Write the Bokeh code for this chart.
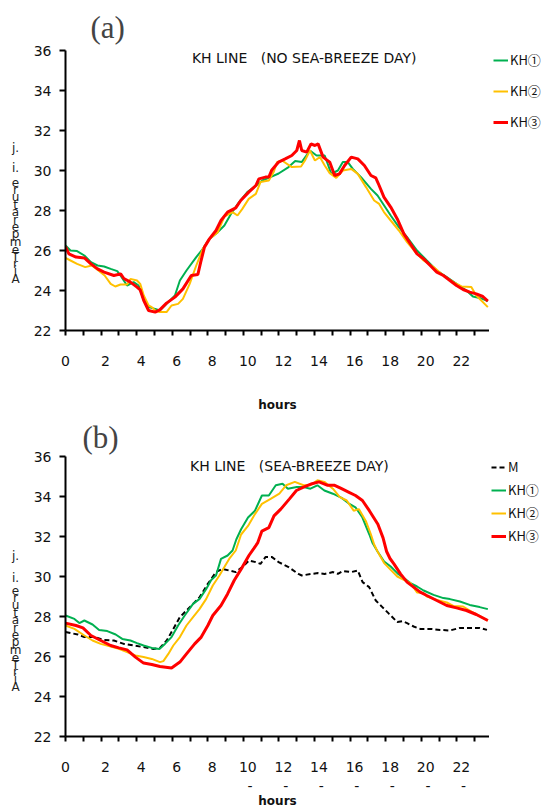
from bokeh.plotting import figure
from bokeh.models import Range1d, FixedTicker, Label, Legend, LegendItem
from bokeh.layouts import column, row
from bokeh.embed import file_html
from bokeh.resources import INLINE

NB = "\u00a0"

# ---------------- data ----------------
X_TICKS = list(range(0, 24))
X_TICK_LABELS_A = {h: ((NB * 2 if h else "") + str(h) if h % 2 == 0 else "") for h in X_TICKS}
# panel (b) shows a small stray dash under the labels from 10 h on
X_TICK_LABELS_B = {h: ((NB * 2 if h else "") + str(h) + ("\n" + NB * 3 + "-" if h >= 10 else "")
                       if h % 2 == 0 else "") for h in X_TICKS}
Y_TICKS = [22, 24, 26, 28, 30, 32, 34, 36]
X_END = 143 / 6  # last 10-minute sample

# panel (a): no sea-breeze day
a_kh1_h = [0, 0.28, 0.65, 1.06, 1.43, 1.8, 2.17, 2.54, 2.91, 3.09, 3.46, 3.83, 4.11, 4.4, 4.67, 5.04, 5.3, 5.68,
           6.15, 6.43, 6.8, 7.35, 7.72, 8.09, 8.56, 8.93, 9.3, 9.76, 10.22, 10.6, 11.06, 11.52, 11.98, 12.54,
           12.91, 13.28, 13.74, 14.11, 14.57, 14.94, 15.31, 15.59, 15.87, 16.15, 16.61, 17.17, 17.54, 17.91,
           18.28, 18.74, 19.2, 19.76, 20.31, 20.87, 21.43, 21.98, 22.54, 22.9, 23.28, 23.74]
a_kh1_t = [26.25, 26.0, 25.97, 25.75, 25.42, 25.25, 25.2, 25.08, 24.97, 24.75, 24.25, 24.42, 24.25, 23.5, 23.17,
           23.08, 23.0, 23.33, 23.75, 24.5, 25.0, 25.67, 26.08, 26.58, 26.92, 27.25, 27.83, 28.42, 28.92, 29.17,
           29.5, 29.67, 29.85, 30.17, 30.47, 30.42, 31.0, 30.75, 30.75, 29.83, 30.0, 30.42, 30.42, 30.08, 29.67,
           29.08, 28.75, 28.25, 27.75, 27.17, 26.67, 26.0, 25.5, 25.0, 24.67, 24.33, 24.0, 23.7, 23.63, 23.47]

a_kh2_h = [0, 0.28, 0.65, 1.11, 1.48, 1.85, 2.2, 2.54, 2.8, 3.09, 3.46, 3.65, 4.02, 4.2, 4.4, 4.67, 4.85, 5.04,
           5.3, 5.68, 5.96, 6.33, 6.6, 6.98, 7.35, 7.72, 8.09, 8.56, 8.93, 9.39, 9.67, 9.94, 10.3, 10.7, 10.96,
           11.43, 11.7, 11.89, 12.17, 12.72, 13.24, 13.46, 13.74, 14.02, 14.3, 14.57, 14.85, 15.22, 15.59, 16.06,
           16.43, 16.89, 17.35, 17.63, 17.9, 18.28, 18.74, 19.2, 19.67, 20.13, 20.69, 21.24, 21.8, 22.26, 22.81,
           23.09, 23.74]
a_kh2_t = [25.63, 25.5, 25.33, 25.17, 25.25, 25.0, 24.75, 24.33, 24.2, 24.3, 24.3, 24.58, 24.5, 24.33, 23.75,
           23.25, 23.17, 23.0, 22.92, 22.92, 23.25, 23.33, 23.58, 24.33, 25.25, 26.08, 26.58, 26.92, 27.7, 27.92,
           27.75, 28.08, 28.58, 28.83, 29.42, 29.5, 29.92, 30.42, 30.5, 30.17, 30.2, 30.5, 31.0, 30.5, 30.67,
           30.25, 29.87, 29.63, 30.0, 30.08, 29.83, 29.17, 28.5, 28.33, 27.92, 27.5, 27.0, 26.42, 25.92, 25.5,
           25.17, 24.75, 24.42, 24.2, 24.17, 23.75, 23.17]

a_kh3_h = [0, 0.19, 0.59, 1.06, 1.43, 1.8, 2.17, 2.72, 3.1, 3.28, 3.65, 4.02, 4.2, 4.4, 4.67, 5.04, 5.3, 5.68,
           6.15, 6.6, 7.07, 7.44, 7.6, 7.81, 8.09, 8.46, 8.74, 9.11, 9.57, 9.85, 10.3, 10.7, 10.87, 11.24, 11.43,
           11.6, 11.98, 12.35, 12.72, 13.0, 13.15, 13.28, 13.56, 13.8, 14.02, 14.2, 14.48, 14.85, 15.13, 15.4,
           15.69, 16.06, 16.43, 16.8, 17.17, 17.44, 17.63, 17.9, 18.28, 18.65, 19.02, 19.39, 19.76, 20.13, 20.5,
           20.87, 21.24, 21.61, 21.98, 22.35, 22.72, 23.09, 23.46, 23.74]
a_kh3_t = [26.2, 25.83, 25.67, 25.63, 25.33, 25.08, 24.92, 24.75, 24.83, 24.6, 24.42, 24.17, 24.03, 23.5, 23.0,
           22.92, 23.03, 23.37, 23.67, 24.08, 24.75, 24.8, 25.42, 26.17, 26.58, 27.0, 27.5, 27.92, 28.13, 28.5,
           28.92, 29.25, 29.58, 29.67, 29.67, 30.03, 30.42, 30.58, 30.75, 31.0, 31.5, 31.0, 30.92, 31.33, 31.25,
           31.33, 30.67, 30.42, 29.75, 29.83, 30.25, 30.67, 30.58, 30.25, 29.75, 29.63, 29.25, 28.67, 28.17,
           27.58, 26.83, 26.33, 25.83, 25.58, 25.25, 24.92, 24.75, 24.5, 24.25, 24.05, 23.92, 23.83, 23.7, 23.47]

# panel (b): sea-breeze day
b_m_h = [0, 0.69, 1.06, 1.61, 2.17, 2.72, 3.28, 3.83, 4.39, 4.94, 5.31, 5.69, 6.06, 6.43, 6.8, 7.17, 7.54, 8.0,
         8.46, 8.83, 9.2, 9.57, 9.94, 10.31, 10.69, 10.96, 11.24, 11.61, 11.98, 12.54, 13.09, 13.28, 13.83, 14.2,
         14.57, 15.04, 15.31, 15.59, 16.06, 16.43, 16.7, 17.07, 17.44, 17.81, 18.19, 18.65, 18.93, 19.2, 19.57,
         19.94, 20.5, 21.06, 21.61, 22.17, 22.72, 23.28, 23.69]
b_m_t = [27.22, 27.1, 26.97, 26.97, 26.83, 26.8, 26.63, 26.55, 26.47, 26.38, 26.43, 26.8, 27.38, 27.97, 28.3,
         28.63, 28.97, 29.63, 30.22, 30.38, 30.3, 30.22, 30.47, 30.8, 30.72, 30.63, 30.97, 30.97, 30.72, 30.47,
         30.13, 30.05, 30.13, 30.17, 30.13, 30.22, 30.13, 30.27, 30.22, 30.3, 29.72, 29.47, 28.8, 28.47, 28.13,
         27.72, 27.77, 27.67, 27.5, 27.38, 27.38, 27.33, 27.3, 27.43, 27.43, 27.43, 27.33]

b_kh1_h = [0, 0.5, 0.78, 1.06, 1.52, 1.89, 2.35, 2.82, 3.19, 3.65, 4.02, 4.39, 4.85, 5.28, 5.59, 5.96, 6.33, 6.7,
           7.17, 7.54, 7.91, 8.19, 8.46, 8.74, 9.11, 9.39, 9.6, 9.87, 10.26, 10.65, 11.04, 11.43, 11.82, 12.2,
           12.5, 13.0, 13.38, 13.77, 14.16, 14.55, 15.03, 15.52, 15.91, 16.3, 16.69, 17.08, 17.26, 17.54, 17.91,
           18.28, 18.65, 19.02, 19.39, 19.76, 20.13, 20.69, 21.24, 21.61, 22.17, 22.72, 23.28, 23.74]
b_kh1_t = [28.05, 27.88, 27.67, 27.8, 27.6, 27.33, 27.27, 27.1, 26.88, 26.8, 26.67, 26.55, 26.43, 26.38, 26.63,
           26.97, 27.55, 28.05, 28.63, 28.88, 29.38, 29.83, 30.05, 30.88, 31.05, 31.3, 31.85, 32.36, 32.95, 33.29,
           34.05, 34.05, 34.56, 34.64, 34.39, 34.47, 34.47, 34.39, 34.56, 34.3, 34.14, 33.93, 33.66, 33.46, 32.95,
           32.1, 31.67, 31.25, 30.75, 30.5, 30.17, 29.92, 29.67, 29.5, 29.3, 29.08, 28.92, 28.87, 28.75, 28.58,
           28.47, 28.37]

b_kh2_h = [0, 0.5, 1.06, 1.52, 1.98, 2.54, 3.0, 3.46, 3.93, 4.39, 4.85, 5.31, 5.5, 5.78, 6.06, 6.43, 6.8, 7.17,
           7.54, 7.91, 8.28, 8.65, 8.93, 9.2, 9.57, 9.87, 10.26, 10.65, 11.04, 11.53, 12.02, 12.4, 12.89, 13.38,
           13.77, 14.16, 14.55, 15.03, 15.42, 15.81, 16.2, 16.49, 16.88, 17.17, 17.35, 17.54, 17.91, 18.28, 18.65,
           19.02, 19.39, 19.76, 20.13, 20.31, 20.87, 21.43, 21.8, 22.35, 22.91, 23.74]
b_kh2_t = [27.55, 27.38, 27.05, 26.8, 26.63, 26.5, 26.38, 26.22, 26.05, 25.97, 25.88, 25.72, 25.77, 26.13, 26.55,
           26.97, 27.55, 27.97, 28.38, 28.88, 29.55, 30.05, 30.47, 30.88, 31.3, 32.1, 32.53, 33.12, 33.63, 33.88,
           34.14, 34.56, 34.73, 34.56, 34.56, 34.81, 34.73, 34.39, 33.97, 33.8, 33.29, 33.37, 32.78, 32.1, 31.6,
           31.25, 30.67, 30.33, 30.0, 29.83, 29.67, 29.2, 29.17, 29.0, 28.83, 28.7, 28.53, 28.5, 28.2, 27.8]

b_kh3_h = [0, 0.59, 0.98, 1.43, 1.98, 2.54, 3.0, 3.46, 3.93, 4.39, 4.85, 5.31, 5.96, 6.43, 6.8, 7.26, 7.63, 8.0,
           8.28, 8.74, 9.11, 9.48, 9.94, 10.31, 10.6, 10.8, 11.04, 11.43, 11.72, 12.1, 12.59, 12.98, 13.38, 13.86,
           14.25, 14.74, 15.13, 15.52, 15.91, 16.3, 16.69, 17.08, 17.56, 17.85, 18.05, 18.24, 18.46, 18.83, 19.2,
           19.57, 19.94, 20.31, 20.87, 21.43, 21.98, 22.54, 23.09, 23.74]
b_kh3_t = [27.67, 27.55, 27.43, 27.05, 26.8, 26.55, 26.43, 26.33, 25.97, 25.67, 25.6, 25.5, 25.43, 25.72, 26.13,
           26.63, 26.97, 27.55, 28.05, 28.55, 29.13, 29.8, 30.47, 31.05, 31.42, 31.68, 32.27, 32.44, 33.03, 33.37,
           33.88, 34.3, 34.47, 34.64, 34.73, 34.56, 34.56, 34.39, 34.22, 34.05, 33.8, 33.29, 32.61, 31.93, 31.25,
           30.9, 30.63, 30.13, 29.72, 29.47, 29.22, 29.05, 28.8, 28.55, 28.43, 28.3, 28.1, 27.8]

COLORS = {"M": "black", "KH\u2460": "#00B050", "KH\u2461": "#FFC000", "KH\u2462": "#FF0000"}
WIDTHS = {"M": 2, "KH\u2460": 2, "KH\u2461": 2, "KH\u2462": 3}

TITLE_A = "KH LINE" + NB * 3 + "(NO SEA-BREEZE DAY)"
TITLE_B = "KH LINE" + NB * 3 + "(SEA-BREEZE DAY)"
YLABEL_CHARS = ["j.", "i.", "e", "r", "u", "t", "a", "r", "e", "p", "m", "e", "T", "r", "i", "A"]

# ---------------- layout constants ----------------
PAGE_W = 550
YLAB_W = 30          # strip holding the stacked y label
MAIN_LEFT = 31       # main figure left border (axis + tick labels)
FRAME_W = 428
FRAME_H = 280
LEG_W = PAGE_W - YLAB_W - MAIN_LEFT - FRAME_W
PX_PER_H = FRAME_W / X_END
PX_PER_T = FRAME_H / 14.0
FONT = "DejaVu Sans"


def side_figure(width, height, top, bottom, left, yrange):
    f = figure(width=width, height=height, output_backend="svg", toolbar_location=None,
               x_range=Range1d(0, 1), y_range=yrange,
               x_axis_type=None, y_axis_type=None,
               min_border_left=left, min_border_right=0, min_border_top=top, min_border_bottom=bottom)
    f.outline_line_color = None
    f.xgrid.visible = False
    f.ygrid.visible = False
    f.border_fill_color = "white"
    f.background_fill_color = "white"
    return f


def make_panel(height, top, bottom, letter, letter_offset, letter_standoff, title, title_px, title_dy,
               series, legend_spacing, legend_left, legend_loc, label_std, ylab_offsets, tick_labels):
    p = figure(width=MAIN_LEFT + FRAME_W, height=height, output_backend="svg", toolbar_location=None,
               title=letter, x_range=Range1d(0, X_END), y_range=Range1d(22, 36),
               min_border_left=MAIN_LEFT, min_border_right=0, min_border_top=top, min_border_bottom=bottom)
    p.outline_line_color = None
    p.xgrid.visible = False
    p.ygrid.visible = False
    p.background_fill_color = "white"
    p.border_fill_color = "white"

    p.title.text_font = "Liberation Serif"
    p.title.text_font_size = "31px"
    p.title.text_font_style = "normal"
    p.title.align = "left"
    p.title.offset = letter_offset
    p.title.standoff = letter_standoff

    for ax in (p.xaxis[0], p.yaxis[0]):
        ax.axis_line_width = 2
        ax.axis_line_color = "black"
        ax.major_tick_line_width = 2
        ax.major_tick_line_color = "black"
        ax.major_tick_in = 0
        ax.minor_tick_line_color = None
        ax.major_label_text_font = FONT
        ax.major_label_text_color = "#111111"

    p.xaxis.ticker = FixedTicker(ticks=X_TICKS)
    p.xaxis.major_label_overrides = tick_labels
    p.xaxis.major_tick_out = 5
    p.xaxis.major_label_standoff = 17
    p.xaxis.major_label_text_font_size = "14px"
    p.xaxis.axis_label = "hours"
    p.xaxis.axis_label_text_font = FONT
    p.xaxis.axis_label_text_font_style = "bold"
    p.xaxis.axis_label_text_font_size = "12px"
    p.xaxis.axis_label_text_color = "#111111"
    p.xaxis.axis_label_standoff = label_std

    p.yaxis.ticker = FixedTicker(ticks=Y_TICKS)
    p.yaxis.major_tick_out = 6
    p.yaxis.major_label_standoff = 8
    p.yaxis.major_label_text_font_size = "14px"

    # legend strip: its frame lines up with the main frame; proxy lines carry the
    # same data but sit outside this strip's y range, so only the legend shows
    lf = side_figure(LEG_W, height, top, bottom, legend_left, Range1d(100, 200))
    items = []
    for name, hs, ts in series:
        kw = dict(line_color=COLORS[name], line_width=WIDTHS[name])
        if name == "M":
            kw["line_dash"] = "5 3"
        p.line(hs, ts, **kw)
        proxy = lf.line(hs, ts, **kw)
        items.append(LegendItem(label=name, renderers=[proxy]))
    legend = Legend(items=items, location=legend_loc, orientation="vertical",
                    glyph_width=15, glyph_height=12, label_height=12, label_standoff=2,
                    spacing=legend_spacing, padding=0, margin=0,
                    background_fill_alpha=0, border_line_alpha=0,
                    label_text_font="Noto Sans CJK JP", label_text_font_size="13px",
                    label_text_color="#111111")
    lf.add_layout(legend)

    # stacked (garbled) y-axis label strip; y range = pixels below the frame top
    yf = side_figure(YLAB_W, height, top, bottom, 0, Range1d(FRAME_H, 0))
    for ch, off in zip(YLABEL_CHARS, ylab_offsets):
        yf.add_layout(Label(x=0.5, y=off, text=ch, text_font=FONT, text_font_size="12px",
                            text_align="center", text_baseline="middle", text_color="#222222"))

    # chart title inside the frame
    tx = title_px / PX_PER_H
    ty = 36 - title_dy / PX_PER_T
    p.add_layout(Label(x=tx, y=ty, text=title, text_font=FONT, text_font_size="14px",
                       text_align="center", text_baseline="middle", text_color="#111111"))
    return row(yf, p, lf, spacing=0)


offs_a = [97, 117] + [132 + 7.4 * k for k in range(14)]
offs_b = [99, 121] + [134 + 7.4 * k for k in range(14)]

pa = make_panel(415, 50, 85, "(a)", 25, 12, TITLE_A, 241, 7,
                [("KH\u2460", a_kh1_h, a_kh1_t), ("KH\u2461", a_kh2_h, a_kh2_t), ("KH\u2462", a_kh3_h, a_kh3_t)],
                12, 4, "top_left", 26, offs_a, X_TICK_LABELS_A)
pb = make_panel(395, 41, 74, "(b)", 17, 3, TITLE_B, 226, 9,
                [("M", b_m_h, b_m_t), ("KH\u2460", b_kh1_h, b_kh1_t), ("KH\u2461", b_kh2_h, b_kh2_t),
                 ("KH\u2462", b_kh3_h, b_kh3_t)],
                4, 2, (0, 191), -3, offs_b, X_TICK_LABELS_B)

layout = column(pa, pb, spacing=0)
open("out.html", "w").write(file_html(layout, INLINE))
